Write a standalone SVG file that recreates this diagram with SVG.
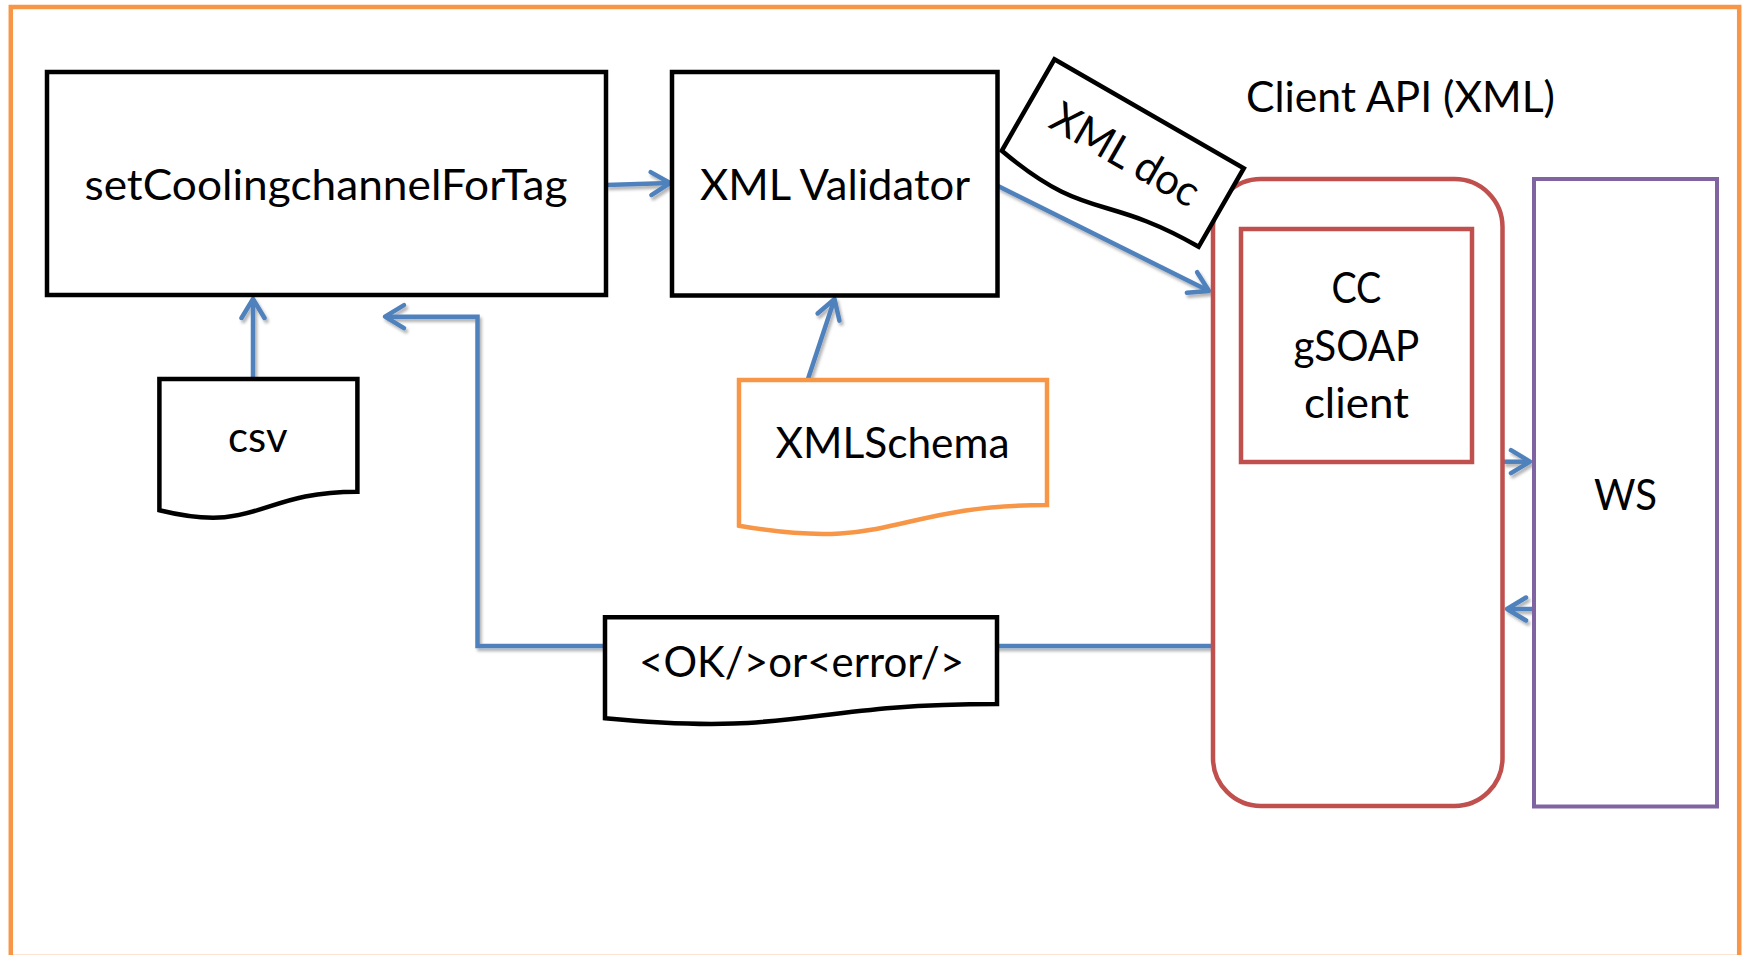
<svg xmlns="http://www.w3.org/2000/svg" width="1747" height="955" viewBox="0 0 1747 955">
  <style>
    .lbl { font-family: "Lato", "Liberation Sans", sans-serif; font-size: 43px; fill: #000; text-anchor: middle; }
    .blk { fill: #fff; stroke: #000; stroke-width: 4.5; stroke-linejoin: miter; }
    .red { fill: #fff; stroke: #C0504D; stroke-width: 4.5; }
    .pur { fill: #fff; stroke: #8064A2; stroke-width: 4; }
    .org { fill: #fff; stroke: #F79646; stroke-width: 4.5; }
    .con { fill: none; stroke: #4F81BD; stroke-width: 4.5; stroke-linejoin: miter; }
  </style>
  <defs>
    <filter id="shadow" x="-20%" y="-20%" width="140%" height="140%">
      <feDropShadow dx="2" dy="3" stdDeviation="1.6" flood-color="#000" flood-opacity="0.3"/>
    </filter>
    <marker id="arr" markerUnits="userSpaceOnUse" markerWidth="32" markerHeight="32" viewBox="-26 -16 32 32" refX="0" refY="0" orient="auto">
      <path d="M-19,-11.5 L0,0 L-19,11.5" fill="none" stroke="#4F81BD" stroke-width="4.5" stroke-linecap="round" stroke-linejoin="round"/>
    </marker>
  </defs>

  <rect width="1747" height="955" fill="#fff"/>
  <!-- outer frame -->
  <rect x="10.8" y="7" width="1728.4" height="950" fill="none" stroke="#F79646" stroke-width="4.5"/>

  <!-- connectors -->
  <g id="connectors" filter="url(#shadow)">
    <path class="con" d="M606,185 L670,183" marker-end="url(#arr)"/>
    <path class="con" d="M998,186 L1209,291" marker-end="url(#arr)"/>
    <path class="con" d="M253,379 L253,299" marker-end="url(#arr)"/>
    <path class="con" d="M806,385 L834.5,299" marker-end="url(#arr)"/>
    <path class="con" d="M1213,646 L477.5,646 L477.5,316.7 L385,316.7" marker-end="url(#arr)"/>
    <path class="con" d="M1503,461.7 L1530,461.7" marker-end="url(#arr)"/>
    <path class="con" d="M1533,609 L1507,609" marker-end="url(#arr)"/>
  </g>

  <g id="client-api">
    <rect class="red" x="1213" y="179" width="289.5" height="627" rx="48" ry="48"/>
    <text class="lbl" x="1400.5" y="111.5" textLength="309" lengthAdjust="spacingAndGlyphs">Client API (XML)</text>
  </g>

  <g id="gsoap-client">
    <rect class="red" x="1241" y="229" width="231" height="233"/>
    <text class="lbl" x="1356.4" y="303.3" textLength="50" lengthAdjust="spacingAndGlyphs">CC</text>
    <text class="lbl" x="1356.4" y="360.7" textLength="126" lengthAdjust="spacingAndGlyphs">gSOAP</text>
    <text class="lbl" x="1356.4" y="418.3" textLength="105" lengthAdjust="spacingAndGlyphs">client</text>
  </g>

  <g id="ws">
    <rect class="pur" x="1534" y="179" width="183" height="627.5"/>
    <text class="lbl" x="1625.6" y="510" textLength="63" lengthAdjust="spacingAndGlyphs">WS</text>
  </g>

  <g id="set-cooling">
    <rect class="blk" x="47" y="72" width="559" height="223"/>
    <text class="lbl" x="326" y="200" textLength="483" lengthAdjust="spacingAndGlyphs">setCoolingchannelForTag</text>
  </g>

  <g id="xml-validator">
    <rect class="blk" x="672" y="72" width="325.5" height="223.5"/>
    <text class="lbl" x="835" y="199.5" textLength="270" lengthAdjust="spacingAndGlyphs">XML Validator</text>
  </g>

  <g id="xml-doc" transform="translate(1054.4,59.3) rotate(29.9)">
    <path class="blk" d="M0,0 H218.5 V90.6 C109.25,90.6 109.25,125.1 0,105.5 Z"/>
    <text class="lbl" x="109" y="62" textLength="164" lengthAdjust="spacingAndGlyphs">XML doc</text>
  </g>

  <g id="csv">
    <path class="blk" d="M159.4,379 H357.4 V491.7 C258.4,491.7 258.4,534.5 159.4,510.2 Z"/>
    <text class="lbl" x="257.8" y="451.7" textLength="59.5" lengthAdjust="spacingAndGlyphs">csv</text>
  </g>

  <g id="xml-schema">
    <path class="org" d="M739,380 H1047 V505.1 C893,505.1 893,552.7 739,525.7 Z"/>
    <text class="lbl" x="892.5" y="458.3" textLength="234" lengthAdjust="spacingAndGlyphs">XMLSchema</text>
  </g>

  <g id="result">
    <path class="blk" d="M605,617.3 H997 V703.9 C801,703.9 801,736.9 605,718.2 Z"/>
    <text class="lbl" x="801.6" y="676.7" textLength="325" lengthAdjust="spacingAndGlyphs">&lt;OK/&gt;or&lt;error/&gt;</text>
  </g>
</svg>
